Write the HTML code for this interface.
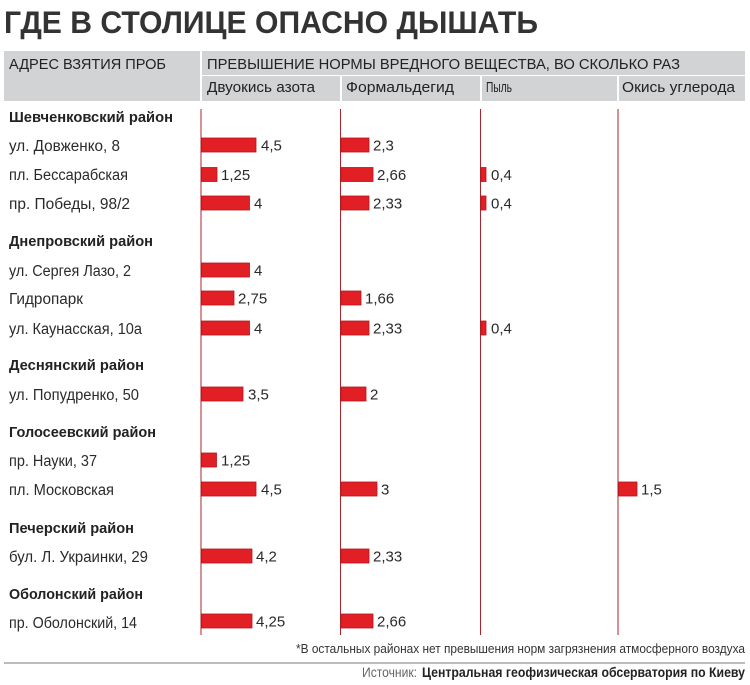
<!DOCTYPE html>
<html><head><meta charset="utf-8"><style>
html,body{margin:0;padding:0;background:#fff;}
svg{display:block;}
text{font-family:"Liberation Sans","DejaVu Sans",sans-serif;}
</style></head><body>
<svg width="750" height="685" viewBox="0 0 750 685" xmlns="http://www.w3.org/2000/svg">
<rect width="750" height="685" fill="#fff"/>
<!-- Title -->
<text x="4" y="33" font-size="31.5" font-weight="bold" fill="#333" textLength="534" lengthAdjust="spacingAndGlyphs">ГДЕ В СТОЛИЦЕ ОПАСНО ДЫШАТЬ</text>
<!-- Header band -->
<rect x="4" y="51" width="196" height="50" fill="#d2d3d5"/>
<rect x="202" y="51" width="543" height="24" fill="#d2d3d5"/>
<rect x="202" y="76" width="138" height="25" fill="#d2d3d5"/>
<rect x="342" y="76" width="138" height="25" fill="#d2d3d5"/>
<rect x="482" y="76" width="135" height="25" fill="#d2d3d5"/>
<rect x="619" y="76" width="126" height="25" fill="#d2d3d5"/>
<text x="9" y="69" font-size="15" fill="#222" textLength="157" lengthAdjust="spacingAndGlyphs">АДРЕС ВЗЯТИЯ ПРОБ</text>
<text x="207" y="69" font-size="15" fill="#222" textLength="473" lengthAdjust="spacingAndGlyphs">ПРЕВЫШЕНИЕ НОРМЫ ВРЕДНОГО ВЕЩЕСТВА, ВО СКОЛЬКО РАЗ</text>
<text x="207" y="92" font-size="15" fill="#222" textLength="108" lengthAdjust="spacingAndGlyphs">Двуокись азота</text>
<text x="346" y="92" font-size="15" fill="#222" textLength="108" lengthAdjust="spacingAndGlyphs">Формальдегид</text>
<text x="486" y="92" font-size="15" fill="#222" textLength="26" lengthAdjust="spacingAndGlyphs">Пыль</text>
<text x="622" y="92" font-size="15" fill="#222" textLength="113" lengthAdjust="spacingAndGlyphs">Окись углерода</text>
<!-- Vertical lines -->
<g stroke="#a8262c" stroke-width="1">
<line x1="201" y1="109" x2="201" y2="635"/>
<line x1="340.5" y1="109" x2="340.5" y2="635"/>
<line x1="480.5" y1="109" x2="480.5" y2="635"/>
<line x1="618" y1="109" x2="618" y2="635"/>
</g>
<!-- District labels -->
<g font-size="15" font-weight="bold" fill="#222">
<text x="9" y="122" textLength="164" lengthAdjust="spacingAndGlyphs">Шевченковский район</text>
<text x="9" y="246" textLength="144" lengthAdjust="spacingAndGlyphs">Днепровский район</text>
<text x="9" y="370" textLength="135" lengthAdjust="spacingAndGlyphs">Деснянский район</text>
<text x="9" y="437" textLength="147" lengthAdjust="spacingAndGlyphs">Голосеевский район</text>
<text x="9" y="533" textLength="125" lengthAdjust="spacingAndGlyphs">Печерский район</text>
<text x="9" y="599" textLength="134" lengthAdjust="spacingAndGlyphs">Оболонский район</text>
</g>
<!-- Address labels -->
<g font-size="15.5" fill="#2a2a2a">
<text x="9" y="151" textLength="111" lengthAdjust="spacingAndGlyphs">ул. Довженко, 8</text>
<text x="9" y="180" textLength="119" lengthAdjust="spacingAndGlyphs">пл. Бессарабская</text>
<text x="9" y="209" textLength="121" lengthAdjust="spacingAndGlyphs">пр. Победы, 98/2</text>
<text x="9" y="276" textLength="122" lengthAdjust="spacingAndGlyphs">ул. Сергея Лазо, 2</text>
<text x="9" y="304" textLength="74" lengthAdjust="spacingAndGlyphs">Гидропарк</text>
<text x="9" y="334" textLength="133" lengthAdjust="spacingAndGlyphs">ул. Каунасская, 10а</text>
<text x="9" y="400" textLength="130" lengthAdjust="spacingAndGlyphs">ул. Попудренко, 50</text>
<text x="9" y="466" textLength="88" lengthAdjust="spacingAndGlyphs">пр. Науки, 37</text>
<text x="9" y="495" textLength="105" lengthAdjust="spacingAndGlyphs">пл. Московская</text>
<text x="9" y="562" textLength="139" lengthAdjust="spacingAndGlyphs">бул. Л. Украинки, 29</text>
<text x="9" y="628" textLength="128" lengthAdjust="spacingAndGlyphs">пр. Оболонский, 14</text>
</g>
<!-- Bars -->
<g fill="#e31f26" stroke="#b3161c" stroke-width="0.8">
<!-- NO2 -->
<rect x="201.5" y="138" width="54.5" height="14"/>
<rect x="201.5" y="167.5" width="15.5" height="14"/>
<rect x="201.5" y="196" width="48" height="14"/>
<rect x="201.5" y="263" width="48" height="14"/>
<rect x="201.5" y="291" width="32.5" height="14"/>
<rect x="201.5" y="321" width="48" height="14"/>
<rect x="201.5" y="387" width="41.5" height="14"/>
<rect x="201.5" y="453" width="15" height="14"/>
<rect x="201.5" y="482" width="54.5" height="14"/>
<rect x="201.5" y="549" width="50.5" height="14"/>
<rect x="201.5" y="614" width="50.5" height="14"/>
<!-- HCHO -->
<rect x="341" y="138" width="28" height="14"/>
<rect x="341" y="167.5" width="32" height="14"/>
<rect x="341" y="196" width="28" height="14"/>
<rect x="341" y="291" width="20" height="14"/>
<rect x="341" y="321" width="28" height="14"/>
<rect x="341" y="387" width="25" height="14"/>
<rect x="341" y="482" width="36" height="14"/>
<rect x="341" y="549" width="28" height="14"/>
<rect x="341" y="614" width="32" height="14"/>
<!-- Dust -->
<rect x="481" y="167.5" width="5" height="14"/>
<rect x="481" y="196" width="5" height="14"/>
<rect x="481" y="321" width="5" height="14"/>
<!-- CO -->
<rect x="618.5" y="482" width="18.5" height="14"/>
</g>
<!-- Values -->
<g font-size="15" fill="#2a2a2a">
<text x="261" y="150.5">4,5</text>
<text x="221" y="180">1,25</text>
<text x="254" y="208.5">4</text>
<text x="254" y="275.5">4</text>
<text x="238" y="303.5">2,75</text>
<text x="254" y="333.5">4</text>
<text x="248" y="399.5">3,5</text>
<text x="221" y="465.5">1,25</text>
<text x="261" y="494.5">4,5</text>
<text x="256" y="561.5">4,2</text>
<text x="256" y="626.5">4,25</text>
<text x="373" y="150.5">2,3</text>
<text x="377" y="180">2,66</text>
<text x="373" y="208.5">2,33</text>
<text x="365" y="303.5">1,66</text>
<text x="373" y="333.5">2,33</text>
<text x="370" y="399.5">2</text>
<text x="381" y="494.5">3</text>
<text x="373" y="561.5">2,33</text>
<text x="377" y="626.5">2,66</text>
<text x="491" y="180">0,4</text>
<text x="491" y="208.5">0,4</text>
<text x="491" y="333.5">0,4</text>
<text x="641" y="494.5">1,5</text>
</g>
<!-- Footnote -->
<text x="296" y="653" font-size="13" fill="#333" textLength="449" lengthAdjust="spacingAndGlyphs">*В остальных районах нет превышения норм загрязнения атмосферного воздуха</text>
<line x1="4" y1="663" x2="745" y2="663" stroke="#777" stroke-width="1"/>
<text x="362" y="677" font-size="13.5" fill="#666" textLength="55" lengthAdjust="spacingAndGlyphs">Источник:</text>
<text x="422" y="677" font-size="13.5" font-weight="bold" fill="#222" textLength="323" lengthAdjust="spacingAndGlyphs">Центральная геофизическая обсерватория по Киеву</text>
</svg>
</body></html>
